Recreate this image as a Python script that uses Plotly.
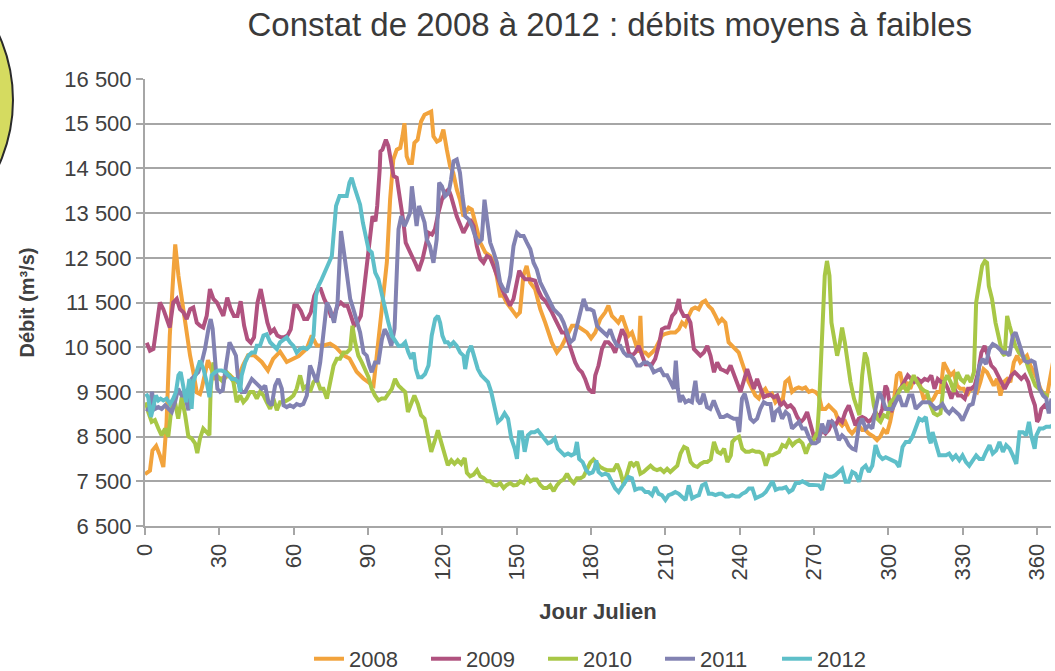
import plotly.graph_objects as go

# ---------------- data (day of year, discharge m3/s) ----------------
obs_2008 = [(0,7660),(2,7740),(3,8190),(4.5,8290),(6,8080),(7.4,7820),(8.7,8820),(10,10760),(11.4,12100),(12.2,12800),(13.5,12100),(15.2,11430),(16.8,10900),(18.2,10310),(19.5,9940),(20.9,9490),(22.2,9450),(22.9,9580),(25.4,10210),(28.2,9800),(31,9800),(34.3,9870),(37,9730),(39.5,10090),(41.6,10320),(44,10320),(47.1,10170),(49.6,9980),(51.7,10240),(54.5,10400),(57.2,10170),(59.7,10240),(62,10300),(65.3,10470),(67.3,10760),(69.3,10540),(72,10540),(74.7,10580),(77,10500),(80,10320),(82.5,10250),(85.4,9950),(88.1,9800),(90.8,9690),(92.2,9640),(93.5,10300),(95,11000),(96.2,11600),(97.6,12400),(98.9,13800),(100.2,14700),(101.6,14920),(103,14960),(103.9,15220),(104.7,15510),(105.6,14770),(106.6,14620),(107.7,14620),(108.7,15070),(110,15140),(111.4,15550),(112.8,15700),(114.4,15740),(115.5,15770),(116.4,15220),(117.8,15100),(119.1,15140),(120.4,15370),(121.8,14920),(123.1,14550),(124.4,14400),(125.8,14030),(127.1,13800),(128.5,13430),(130.6,13620),(131.9,13580),(133.3,13280),(135.3,12840),(137.3,12620),(139.3,12540),(140.6,12400),(141.9,12100),(143.3,11650),(144.6,11650),(145.9,11500),(147.9,11350),(149.9,11200),(151.3,11280),(152.7,12100),(154,12320),(155.4,11950),(157.4,11800),(159.5,11350),(161.5,11050),(162.8,10830),(164.2,10600),(166.2,10380),(168.2,10530),(170.2,10750),(172.3,10980),(174.3,10980),(176.3,10900),(178.3,10830),(180,10700),(181.7,10830),(183.7,11130),(185.7,11280),(187,11430),(188.4,11200),(189.7,11130),(191,11050),(192.5,11200),(193.8,10980),(195.2,10760),(196.5,10830),(197.8,10610),(199.2,10380),(199.9,11200),(200.5,10380),(201.9,10380),(203.2,10310),(204.6,10380),(205.9,10460),(207.3,10610),(208.6,10760),(210,10800),(212,10830),(214,10830),(215.4,10900),(216.7,11050),(218,10980),(219.4,11200),(220.7,11350),(222,11390),(223.4,11350),(224.8,11500),(226.1,11540),(227.4,11420),(228.8,11350),(230.2,11200),(231.5,11050),(232.8,11130),(234.2,11050),(235.5,10610),(236.9,10530),(238.2,10460),(239.6,10380),(240.9,10160),(242.3,9940),(243.6,9720),(245,9570),(246.3,9420),(247.7,9350),(249,9500),(250.3,9570),(251.7,9420),(253,9460),(254.4,9270),(255.7,9350),(257.1,9230),(258.4,9720),(259.8,9790),(261.1,9500),(262.5,9570),(263.8,9600),(265.2,9570),(266.5,9600),(267.9,9500),(269.2,9530),(270.5,9500),(271.9,9420),(273.2,9120),(274.6,9120),(275.9,9200),(277.3,9120),(278.6,9050),(280,8830),(281.3,8750),(282.6,8830),(284,8650),(285.3,8570),(286.7,8650),(288,8750),(289.4,8650),(290.7,8650),(292,8570),(294,8500),(295.4,8420),(296.7,8500),(298,8650),(299.4,8570),(300.7,8830),(302,9200),(303.4,9870),(304.7,9940),(306,9570),(307.4,9720),(308.8,9570),(310.2,9790),(311.5,9790),(312.8,9640),(314.2,9350),(315.5,9420),(316.9,9270),(318.2,9350),(319.6,9500),(321,9500),(322.3,10160),(323.6,10010),(325,9870),(326.3,9940),(327.7,9640),(329,9570),(330.4,9570),(331.7,9420),(333.1,9570),(334.4,9570),(335.8,9500),(337.1,9720),(338.4,10010),(339.8,9940),(341.1,9790),(342.5,9640),(343.8,9790),(345.2,9420),(346.5,9720),(347.9,9790),(349.2,9720),(350.6,10160),(351.9,10310),(353.2,10160),(354.6,10240),(355.9,10310),(357.3,10090),(358.6,9940),(360,9790),(361.3,9570),(362.7,9420),(364,9420),(365.4,9870),(366.4,10160)]

obs_2009 = [(0.7,10600),(2,10420),(3.4,10460),(4.7,11050),(6,11500),(7.4,11350),(8.7,11130),(10,10940),(11.4,11500),(12.8,11580),(14.1,11350),(15.5,11280),(16.8,11130),(18.2,11350),(19.5,11390),(20.9,11050),(22.2,10980),(23.5,10940),(24.9,11200),(26.2,11800),(27.6,11580),(29,11500),(30.3,11350),(31.6,11200),(33.2,11610),(34.6,11350),(35.9,11200),(37.3,11200),(38.6,11530),(40,10980),(41.3,10680),(42.7,10600),(44,10720),(45.4,11500),(46.7,11800),(48,11430),(49.4,11050),(50.7,10830),(52.1,10900),(53.4,10760),(54.8,10720),(56.1,10720),(57.5,10760),(58.8,10900),(60.2,11430),(61.5,11430),(62.9,11310),(64.2,11130),(65.5,11130),(66.9,11280),(68.3,11650),(69.6,11800),(70.9,11800),(72.3,11580),(73.6,11430),(75,11200),(76.3,11200),(77.7,11430),(79,11500),(80.4,11430),(81.7,11430),(83.1,11200),(84.4,10980),(85.7,11050),(87.1,11200),(88.4,11800),(89.8,12540),(90.8,13000),(91.8,13430),(93,13320),(93.7,13660),(94.7,14470),(95,14880),(95.8,14920),(97.2,15140),(98.2,15000),(99.3,14700),(100.3,14330),(101.6,14290),(103,13800),(104.3,13290),(105.2,12840),(106.3,12690),(107.7,12540),(109,12390),(110.4,12210),(112,12470),(113,12760),(114.4,13060),(115.8,13020),(117,13140),(118.4,13510),(119.8,13800),(121.1,13960),(122.5,14030),(123.5,13880),(124.5,13660),(125.8,13430),(127.1,13250),(128.5,13060),(129.9,13210),(131.2,13360),(132.6,13210),(133.9,12760),(135.3,12470),(136.6,12390),(138,12540),(139.3,12500),(140.6,12320),(142,12100),(143.3,11950),(144.6,11730),(146,11580),(147.3,11430),(148.7,11580),(150.1,11950),(151,12210),(152.1,12100),(153.4,12020),(155.4,12020),(157.4,11990),(158.8,11760),(160.1,11610),(161.5,11540),(162.8,11430),(164.2,11280),(165.5,11130),(166.9,10980),(168.2,10830),(169.6,10830),(170.9,10610),(172.3,10380),(173.6,10160),(175,10010),(176.3,9940),(177.6,9790),(179,9570),(180.3,9500),(181,9500),(181.7,9870),(183,10090),(184.4,10460),(185.7,10610),(187,10610),(188.4,10530),(189.7,10380),(191,10610),(192.5,10900),(193.8,10760),(195.2,10380),(196.5,10310),(197.8,10380),(199.2,10530),(200.5,10310),(201.9,10120),(203.2,10120),(204.6,10120),(205.9,10240),(207.3,10530),(208.6,10900),(210,10940),(211.3,10940),(212.7,11200),(214,11280),(215.4,11580),(216,11350),(217.4,11200),(218.8,11200),(220.1,11050),(221.5,10460),(222.8,10380),(224.1,10310),(225.5,10380),(226.9,10530),(228.2,10310),(229.6,9940),(230.9,10160),(232.3,10010),(233.6,9980),(234.9,9940),(236.3,10090),(237.6,9900),(239,9720),(240.3,9500),(241.7,9760),(243,10010),(244.3,9790),(245.7,9570),(247,9790),(248.4,9570),(249.7,9380),(251.1,9420),(252.4,9440),(253.8,9380),(255.1,9420),(256.4,9200),(257.8,9270),(259.2,9160),(260.5,9200),(261.8,9120),(263.2,8940),(264.6,8820),(265.9,8900),(267.2,9050),(268.6,8750),(269.9,8500),(271.2,8450),(272.5,8550),(273.2,8650),(274.6,8570),(275.9,8650),(277.3,8830),(278.6,8750),(280,8900),(281.3,8830),(282.6,9050),(284,9200),(285.3,8980),(286.7,8750),(288,8900),(289.4,8940),(290.7,8900),(292,8830),(293.4,8900),(294.8,9050),(296.1,8900),(297.5,9120),(298.8,9640),(299.5,9570),(301.1,9050),(302.4,9270),(303.8,9500),(305.1,9600),(306.5,9720),(307.8,9870),(309.2,9790),(310.5,9720),(311.8,9790),(313.2,9720),(314.6,9790),(315.9,9760),(317.3,9870),(318.6,9570),(319.9,9790),(321.3,9720),(322.7,9720),(324,9570),(325.4,9350),(326.7,9570),(328,9420),(329.4,9420),(330.8,9350),(332.1,9570),(333.4,9570),(334.8,9640),(336.2,9940),(337.5,10380),(338.8,10530),(340.2,10310),(341.5,10090),(342.9,10010),(344.2,9870),(345.6,9720),(346.9,9570),(348.3,9720),(349.6,9870),(351,9940),(352.3,9870),(353.6,9790),(355,9870),(356.4,9720),(357.7,9420),(359.1,9200),(360,8830),(360.8,8900),(361.7,9120),(363,9200),(364.4,9120),(365.7,9050)]

obs_2010 = [(0.4,9270),(1.3,9050),(2.7,8830),(4,8870),(5.4,8680),(6.7,8530),(8.1,8680),(9.4,8500),(10.8,9200),(12.1,9270),(13.4,8900),(14.8,9380),(16.2,8980),(17.5,8500),(18.8,8460),(20.2,8350),(21.1,8130),(22.2,8460),(23.5,8680),(24.9,8610),(26,8530),(26.5,9570),(27.6,10160),(28.9,9870),(30.3,9790),(31.6,9720),(33,9940),(34.3,9870),(35.7,9720),(37,9270),(38.4,9420),(39.7,9270),(41,9350),(42.4,9500),(43.7,9500),(45.1,9350),(46.4,9500),(47.8,9420),(49.1,9270),(50.5,9120),(51.8,9350),(53.2,9090),(54.5,9270),(55.9,9270),(57.2,9310),(58.5,9350),(59.9,9420),(61.2,9570),(62.6,9870),(63.9,9570),(65.3,9640),(66.6,9500),(68,9720),(69.3,9790),(70.7,9570),(72,9570),(73.4,9350),(74.7,9720),(76.1,10090),(77.4,10240),(78.7,10240),(80.1,10380),(81.4,10380),(82.8,10460),(83.7,10980),(84.8,10610),(86.1,10310),(87.5,10160),(88.8,9980),(90.2,9830),(91.5,9570),(92.8,9420),(94.2,9310),(95.5,9350),(96.9,9350),(98.2,9460),(99.6,9570),(100.9,9790),(102.3,9640),(103.6,9570),(105,9500),(106.1,9050),(107.4,9230),(108.7,9420),(110.1,9230),(111.4,8980),(112.8,8900),(114.1,8530),(115.5,8160),(116.8,8380),(118.2,8640),(119.5,8380),(120.9,8080),(122.2,7860),(123.6,7970),(124.9,7890),(126.2,7970),(127.6,7890),(129,8020),(129.9,7690),(131.2,7610),(132.6,7650),(134,7750),(135.3,7610),(136.7,7570),(138,7500),(139.3,7500),(140.7,7420),(142,7410),(143.3,7460),(144.7,7350),(146,7420),(147.4,7460),(148.7,7410),(150.1,7420),(151.4,7500),(152.8,7460),(154.1,7600),(155.5,7500),(156.8,7540),(158.1,7540),(159.5,7420),(160.8,7350),(162.2,7350),(163.5,7410),(164.9,7280),(166.2,7410),(167.6,7500),(168.9,7540),(170.3,7670),(171.6,7540),(173,7460),(174.3,7570),(175.7,7570),(177,7610),(178.4,7770),(179.7,7920),(181,7990),(182.4,7890),(183.7,7820),(185,7780),(186.4,7750),(187.7,7750),(189.1,7750),(190.5,7890),(191.8,7710),(193.2,7420),(194.5,7710),(195.9,7930),(197.2,7850),(198.6,7930),(199.9,7670),(201.2,7710),(202.6,7780),(204,7850),(205.3,7780),(206.6,7750),(208,7780),(209.4,7710),(210.7,7780),(212,7710),(213.4,7780),(214.8,7850),(216.1,8120),(217.5,8270),(218.8,8230),(220.2,7930),(221.5,7850),(222.9,7820),(224.2,7890),(225.6,7930),(226.9,7930),(228.3,7990),(229.6,8380),(231,8160),(232.3,8120),(233.7,8230),(235,7930),(236.4,8080),(237,8380),(238.3,8460),(239.7,8500),(241,8230),(242.4,8160),(243.8,8160),(245.1,8190),(246.5,8160),(247.8,8160),(249.1,8120),(250.5,7850),(251.9,8080),(253.2,8080),(254.5,8120),(255.9,8160),(257.2,8310),(258.6,8270),(259.9,8420),(261.3,8310),(262.6,8380),(264,8420),(265.3,8350),(266.7,8120),(268,8310),(269.4,8380),(270.7,8530),(271.2,8500),(272,9200),(272.5,9790),(273.5,11050),(274.3,12100),(275.2,12430),(276.2,12100),(277,11050),(278,10680),(279.3,10310),(280.2,10530),(281.3,10940),(282.4,10610),(283.4,10160),(284.7,9720),(286.1,9350),(287.4,9120),(288.3,8980),(289.4,9870),(290.5,10380),(291.4,10240),(292.8,9720),(294.1,9200),(295.5,8900),(296.8,8830),(298.1,8980),(299.5,8940),(300.8,9270),(302.2,9350),(303.5,9420),(304.8,9570),(306.2,9640),(307.5,9500),(308.9,9720),(310.2,9870),(311.6,9720),(312.9,9600),(314.3,9530),(315.6,9500),(317,9200),(318.3,9020),(319.7,8980),(321,9020),(322.4,9720),(323.7,9870),(325.1,9720),(326.4,9500),(327.8,9940),(329.1,9790),(330.5,9720),(331.8,9870),(333.2,9720),(334.5,9940),(335.4,11500),(336.5,11870),(337.8,12320),(338.9,12430),(339.8,12390),(340.5,11870),(341.8,11580),(343.2,11050),(344.5,10760),(345.9,10380),(346.9,10310),(347.9,11200),(348.9,10980),(349.9,10760),(351.2,10530),(352.6,10380),(353.9,10310),(355.3,10240),(356.6,10010),(358,9790),(359.3,9640),(360.7,9570),(362,9500),(363.4,9420),(364.7,9420)]

obs_2011 = [(0.4,9120),(1.7,9090),(2.8,9500),(4,9120),(5.4,9160),(6.7,9120),(8.1,9200),(9.4,9120),(10.8,9050),(12.1,9270),(13.4,9570),(14.8,9420),(16.2,9420),(17.5,9090),(18.8,9790),(20.2,9870),(21.5,9940),(22.9,10160),(24.2,10460),(25.6,10910),(26.5,11130),(27.3,10910),(28.3,10310),(29.2,9570),(30.3,9500),(31.4,9540),(32.7,10090),(34.1,10610),(35.4,10460),(36.7,10310),(37.7,9720),(39,9500),(40.4,9500),(41.7,9640),(43.1,9790),(44.4,9720),(45.8,9640),(47.1,9570),(48.5,9640),(49.8,9270),(51.1,9200),(52.5,9640),(53.8,9790),(55.2,9570),(55.9,9200),(57.2,9160),(58.5,9200),(59.9,9160),(61.2,9230),(62.6,9200),(63.9,9230),(65.3,9420),(66.6,10090),(68,9870),(69.3,9720),(70.7,10160),(72,10760),(73.4,11500),(74.7,11350),(76.3,11050),(77.7,11500),(78.7,13060),(79.1,13100),(80.3,12620),(81.4,12100),(82.8,11580),(84.1,11350),(85.5,11050),(86.8,10830),(88.2,10380),(89.5,10310),(90.5,10090),(91.5,9940),(92.8,10160),(94.2,10160),(95.6,10680),(96.7,10900),(98.1,10760),(99.4,10530),(100.7,10910),(101.6,12100),(102.3,13140),(103.4,13430),(104.7,13210),(105.6,13320),(107,13510),(107.7,14100),(108.7,13580),(109.6,13210),(110.6,13660),(111.6,13510),(112.8,13290),(113.7,12910),(115,12760),(116.4,12390),(117.7,12910),(118.7,14180),(119.8,14100),(121.1,13880),(122.5,13950),(123.5,14250),(124.5,14660),(125.8,14700),(127.1,14400),(128.1,13880),(129.2,13430),(130.6,13360),(131.9,13210),(133.2,12990),(134.6,12840),(135.9,12910),(137,13800),(138,13360),(139.3,12840),(140.7,12620),(142,12390),(143.3,11950),(144.7,11800),(146,11730),(147.4,12100),(148.7,12760),(150.1,13060),(151.4,12990),(152.8,12990),(154.1,12840),(155.5,12690),(156.8,12390),(158.1,12240),(159.5,11950),(160.8,11800),(162.2,11650),(163.5,11500),(164.9,11350),(166.2,11280),(167.6,11200),(168.9,11050),(170.3,10830),(171.6,10610),(173,10680),(174.3,10980),(175.7,11280),(177,11580),(178.4,11350),(179.7,11350),(181,11310),(182.4,10980),(183.7,10900),(185,10830),(186.4,10760),(187.7,10900),(189.1,10680),(190.5,10530),(191.8,10530),(193.2,10380),(194.5,10310),(195.9,10310),(197.2,10240),(198.6,10090),(199.9,10090),(201.3,10160),(202.6,10160),(204,10090),(205.3,9940),(206.7,9980),(208,10010),(209.4,9870),(210.7,9870),(212.1,9720),(213.4,9570),(214.2,10200),(215,9570),(215.8,9270),(216.7,9420),(218.1,9270),(219.4,9310),(220.7,9270),(222.1,9750),(223,9310),(224.1,9230),(225.4,9460),(226.8,9160),(228.1,9120),(229.5,9310),(230.8,9120),(232.2,8940),(233.5,8940),(234.9,8980),(236.2,8940),(237.6,8900),(238.9,8900),(239.8,8600),(240.9,9350),(242,9460),(242.9,9270),(244.3,8900),(245.6,8830),(247,8900),(248.3,9120),(249.7,9270),(251,9230),(252.4,9230),(253.5,8830),(254.4,9050),(255.8,9120),(257.1,8900),(258.5,9050),(259.8,8980),(261.1,8680),(262.5,8750),(263.9,8830),(265.2,8680),(266.5,8680),(267.9,8490),(269.2,8350),(270.6,8350),(271.9,8400),(273.2,8790),(274.6,8570),(275.9,8830),(277.3,8830),(278.6,8680),(280,8420),(281.3,8530),(282.6,8460),(284,8310),(285.4,8230),(286.7,8200),(288.1,8750),(289.4,8900),(290.8,8680),(292.1,8750),(293.5,8680),(294.8,9120),(296.2,9500),(297.5,9350),(298.9,9120),(300.2,9120),(301.6,9120),(302.9,9270),(304.3,9420),(305.6,9200),(307,9200),(308.3,9420),(309.7,9420),(311,9120),(312.4,9200),(313.7,9270),(315.1,9270),(316.4,9270),(317.8,9200),(319.1,9120),(320.5,9160),(321.8,9230),(323.2,9090),(324.5,9020),(325.9,9120),(327.2,9050),(328.6,8980),(329.9,8860),(331.3,9050),(332.6,9200),(334,9230),(335.3,9570),(336.7,10090),(338,10240),(339.4,10120),(340.7,10460),(342.1,10570),(343.4,10530),(344.8,10460),(346.1,10380),(347.5,10380),(348.8,10310),(350.2,10760),(351.3,10830),(352.2,10680),(353.6,10460),(354.9,10200),(356.3,10160),(357.6,10200),(359,10160),(359.9,9870),(361,9570),(362.4,9420),(363.7,9350),(364.7,9020),(365.8,9350)]

obs_2012 = [(0.4,9460),(1.3,9380),(2.4,8940),(3.4,9160),(4.4,9420),(5.4,9310),(6.3,9350),(7.4,9310),(8.7,9350),(10.1,9230),(11.4,9350),(12.5,9500),(13.5,9870),(14.4,9940),(15.5,9570),(16.6,9270),(17.9,9790),(18.8,9120),(19.5,9720),(20.9,10010),(22.2,10200),(23.6,10010),(24.9,9720),(26,9380),(26.9,9870),(28.3,9940),(29.6,9980),(30.9,9980),(32.3,9940),(33.6,9870),(35,9790),(36.3,9790),(37.7,9720),(38.4,9500),(39,9870),(40.4,10160),(41.7,10310),(43.1,10380),(44.4,10380),(45.1,10530),(46.4,10530),(47.8,10760),(49.1,10790),(50.5,10610),(51.8,10530),(53.2,10460),(54.5,10610),(55.9,10680),(57.2,10720),(58.5,10610),(59.9,10530),(61.2,10380),(62.6,10460),(63.9,10490),(65.3,10460),(66.6,10530),(68,10760),(69,11650),(70,11870),(71.3,12020),(72.7,12210),(74,12390),(75.4,12540),(76.3,13140),(77.1,13660),(78.5,13880),(80.1,13880),(81.4,13880),(82.5,14180),(83.4,14290),(84.4,14100),(85.5,13880),(86.8,13690),(87.9,13290),(89.2,12990),(90.2,12690),(91.5,12620),(92.9,12170),(94.2,12020),(95.6,11650),(96.9,11350),(98.2,11050),(99.6,10760),(100.9,10650),(102.3,10530),(103.6,10530),(105,10610),(106.3,10380),(107.4,10240),(108.4,10380),(109.3,10010),(110.3,9830),(111.7,9830),(113,9900),(114.4,10090),(115.7,10760),(117.1,11130),(118.2,11200),(119.1,11050),(120,10760),(121.1,10610),(122.2,10610),(123.1,10530),(124.5,10610),(125.8,10530),(127.2,10380),(128.5,10310),(129.2,10010),(130.3,10380),(131.6,10530),(133,10240),(134.3,10010),(135.7,9870),(137,9790),(138.4,9720),(139.7,9500),(141.1,9120),(142.4,8830),(143.8,8900),(145.1,9020),(146.5,8900),(147.8,8460),(149.2,8230),(150.1,8000),(151,8600),(152.1,8600),(153.2,8160),(154.5,8530),(155.9,8600),(157.2,8600),(158.5,8640),(159.9,8530),(161.2,8460),(162.6,8350),(163.9,8380),(165.3,8460),(166.6,8230),(168,8160),(169.3,8080),(170.7,8120),(172,8080),(173.4,8120),(174.3,8380),(175.2,8000),(176.6,7930),(178,7750),(179.3,7670),(180.6,7700),(181.5,7800),(182.1,7970),(183,7710),(184.4,7640),(185.7,7670),(187,7640),(188.4,7500),(189.7,7340),(191.1,7260),(192.4,7370),(193.8,7450),(195.1,7600),(196.5,7570),(197.8,7310),(199.2,7340),(200.5,7340),(201.9,7260),(203.2,7260),(204.6,7190),(205.9,7370),(207.3,7220),(208.6,7190),(210,7080),(211.3,7190),(212.7,7220),(214,7260),(215.4,7220),(216.7,7160),(218.1,7080),(219.4,7410),(220.8,7120),(222.1,7160),(223.5,7190),(224.8,7410),(226.2,7450),(227.5,7220),(228.9,7220),(230.2,7190),(231.6,7220),(232.9,7220),(234.3,7160),(235.6,7160),(237,7190),(238.3,7160),(239.7,7160),(241,7220),(242.4,7260),(243.7,7340),(245.1,7340),(246.4,7120),(247.8,7160),(249.1,7190),(250.5,7260),(251.8,7370),(253.2,7500),(254.5,7310),(255.9,7340),(257.2,7340),(258.6,7370),(259.9,7260),(261.3,7310),(262.6,7460),(264,7460),(265.3,7500),(266.7,7460),(268,7420),(269.4,7420),(270.7,7410),(271.9,7410),(273.2,7310),(274.6,7640),(275.9,7600),(277.3,7600),(278.6,7640),(280,7710),(281.3,7780),(282.7,7490),(284,7490),(285.4,7710),(286.7,7670),(288.1,7490),(289.4,7780),(290.8,7850),(292.1,7710),(293.5,7850),(294.8,8310),(296.2,8080),(297.6,8000),(298.9,8040),(300.3,8000),(301.6,7970),(303,7930),(304.3,7820),(305.7,8270),(307,8380),(308.4,8380),(309.7,8500),(311.1,8680),(312.4,8900),(313.7,8860),(315.1,8940),(316.4,8460),(317.1,8350),(317.8,8600),(319.1,8380),(320.5,8080),(321.8,8080),(323.2,8080),(324.5,8120),(325.9,8000),(327.2,8080),(328.6,7970),(329.9,8080),(331.3,7930),(332.6,7850),(334,7970),(335.4,8080),(336.7,8000),(338.1,8000),(339.4,8160),(340.8,8310),(342.1,8120),(343.5,8190),(344.8,8380),(346.2,8160),(347.5,8310),(348.9,8230),(350.2,8080),(351.6,7890),(352.9,8600),(354.3,8600),(355.6,8530),(356.7,8830),(357.6,8530),(358.3,8380),(359,8230),(359.7,8530),(361,8680),(362.4,8680),(363.7,8720),(365.1,8720),(366.2,8750)]

series_names = ["2008", "2009", "2010", "2011", "2012"]
series_data = [obs_2008, obs_2009, obs_2010, obs_2011, obs_2012]
series_colors = ["#F2A33C", "#B0527F", "#A8C746", "#8282B2", "#5EBFC9"]

x_tick_vals = [0, 30, 60, 90, 120, 150, 180, 210, 240, 270, 300, 330, 360]
y_tick_vals = [6500, 7500, 8500, 9500, 10500, 11500, 12500, 13500, 14500, 15500, 16500]
y_tick_text = ["6 500", "7 500", "8 500", "9 500", "10 500", "11 500", "12 500",
               "13 500", "14 500", "15 500", "16 500"]

FONT = "Liberation Sans, Arial, Helvetica, sans-serif"
TXT = "#404040"
GRID = "#A6A6A6"

fig = go.Figure()
for name, pts, col in zip(series_names, series_data, series_colors):
    fig.add_trace(go.Scatter(
        x=[p[0] for p in pts], y=[p[1] for p in pts], mode="lines", name=name,
        line=dict(color=col, width=4), hoverinfo="skip"))

fig.update_layout(
    width=1055, height=671,
    margin=dict(l=145, r=4, t=79, b=145),
    paper_bgcolor="white", plot_bgcolor="white",
    font=dict(family=FONT, color=TXT, size=22),
    title=dict(text="Constat de 2008 à 2012 : débits moyens à faibles",
               x=0.578, xanchor="center", y=0.963, yanchor="middle",
               font=dict(size=33, color="#3a3a3a", family=FONT)),
    showlegend=True,
    hovermode=False,
    legend=dict(orientation="h", x=0.181, xanchor="left",
                yref="container", y=0.018, yanchor="middle",
                font=dict(size=22, color=TXT), itemwidth=30, entrywidth=72,
                bgcolor="rgba(0,0,0,0)"),
    xaxis=dict(range=[0, 365.6], tickvals=x_tick_vals, tickangle=-90, automargin=False,
               ticks="outside", ticklen=7, tickwidth=2, tickcolor=GRID,
               showline=True, linecolor=GRID, linewidth=2, showgrid=False, zeroline=False,
               tickfont=dict(size=22, color=TXT),
               title=dict(text="<b>Jour Julien</b>", font=dict(size=22, color=TXT), standoff=24)),
    yaxis=dict(range=[6500, 16500], tickvals=y_tick_vals, ticktext=y_tick_text, automargin=False,
               ticks="outside", ticklen=7, tickwidth=2, tickcolor=GRID,
               showline=True, linecolor=GRID, linewidth=2,
               showgrid=True, gridcolor=GRID, gridwidth=2, zeroline=False,
               tickfont=dict(size=22, color=TXT),
               title=dict(text="<b>Débit (m³/s)</b>", font=dict(size=20, color=TXT), standoff=24)),
    shapes=[dict(type="circle", xref="paper", yref="paper",
                 x0=-0.4923, x1=-0.1457, y0=0.6018, y1=1.3043,
                 fillcolor="#D5DB60", line=dict(color="#2a2a2a", width=2), layer="above")],
)

fig.write_html("out.html",
               config={"displayModeBar": False, "staticPlot": True},
               post_script="document.body.style.margin='0';document.body.style.overflow='hidden';")
